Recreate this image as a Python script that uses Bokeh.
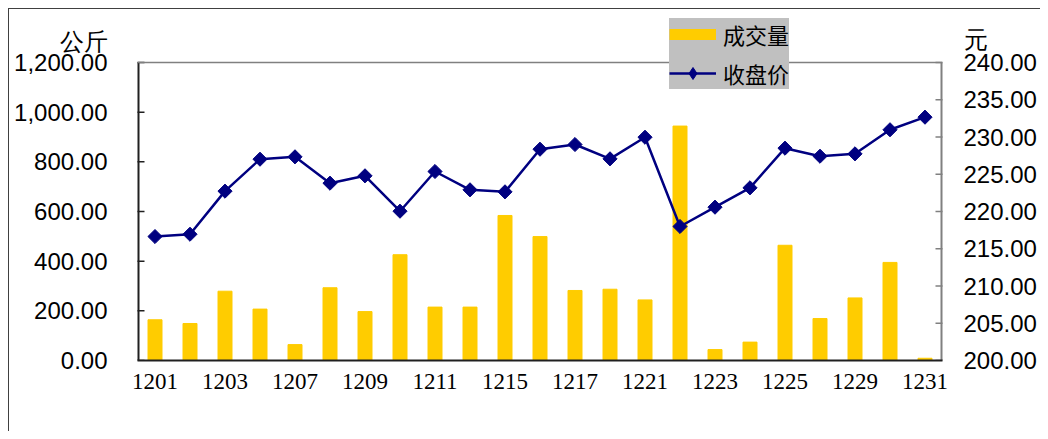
from bokeh.plotting import figure
from bokeh.models import (Range1d, LinearAxis, FixedTicker, NumeralTickFormatter,
                          Legend, LegendItem, ColumnDataSource, Span)
from bokeh.core.properties import value
from bokeh.embed import file_html
from bokeh.resources import INLINE
import numpy as np

dates = ["1201", "1202", "1203", "1206", "1207", "1208", "1209", "1210", "1211", "1214",
         "1215", "1216", "1217", "1220", "1221", "1222", "1223", "1224", "1225", "1228",
         "1229", "1230", "1231"]
volume = [164, 149, 279, 207, 64, 293, 197, 426, 215, 215,
          584, 499, 282, 287, 244, 944, 44, 74, 464, 169,
          252, 395, 9]
price = [216.64, 216.95, 222.73, 227.02, 227.34, 223.80, 224.79, 220.04, 225.37, 222.91,
         222.64, 228.36, 228.99, 227.07, 229.97, 217.99, 220.58, 223.18, 228.50, 227.42,
         227.74, 230.97, 232.66]
vol_ticks = [0, 200, 400, 600, 800, 1000, 1200]
price_ticks = [200, 205, 210, 215, 220, 225, 230, 235, 240]
vol_unit = "公斤"
price_unit = "元"
vol_name = "成交量"
price_name = "收盘价"

# geometry (pixels)
W, H = 1032, 423
B_LEFT, B_RIGHT, B_TOP, B_BOTTOM = 128, 99, 3, 72
PLOT_H = 298                      # height of the bounded plot box
FRAME_H = H - B_TOP - B_BOTTOM    # frame extends above the plot box
scale = FRAME_H / PLOT_H
vol_lo, vol_hi = vol_ticks[0], vol_ticks[-1]
pr_lo, pr_hi = price_ticks[0], price_ticks[-1]
vol_top = vol_lo + (vol_hi - vol_lo) * scale
pr_top = pr_lo + (pr_hi - pr_lo) * scale
# unit captions sit ~21px above the plot box top
vol_unit_y = vol_hi + (vol_hi - vol_lo) * 21 / PLOT_H
pr_unit_y = pr_hi + (pr_hi - pr_lo) * 23 / PLOT_H

xs = list(range(len(dates)))
src = ColumnDataSource(data=dict(x=xs, vol=volume, price=price))
x0, x1 = -0.5, len(dates) - 0.5

p = figure(width=W, height=H, output_backend="svg", toolbar_location=None,
           x_range=Range1d(x0, x1), y_range=Range1d(vol_lo, vol_top),
           min_border_left=B_LEFT, min_border_right=B_RIGHT,
           min_border_top=B_TOP, min_border_bottom=B_BOTTOM)
p.extra_y_ranges = {"price": Range1d(pr_lo, pr_top)}
p.grid.visible = False
p.background_fill_color = "white"
p.border_fill_color = "white"
p.outline_line_color = None
p.styles = {"border-top": "1px solid #404040", "border-left": "1px solid #404040",
            "margin-top": "8px", "margin-left": "8px"}

# plot box: top line, left and right axis lines, inner ticks
p.add_layout(Span(location=vol_hi, dimension="width", line_color="#808080", line_width=1.5))
p.segment(x0=[x0], y0=[vol_lo], x1=[x0], y1=[vol_hi], line_color="#202020", line_width=4)
p.segment(x0=[x1], y0=[pr_lo], x1=[x1], y1=[pr_hi], line_color="#808080", line_width=4,
          y_range_name="price")
p.scatter(x=[x0] * len(vol_ticks), y=vol_ticks, marker="dash", size=14,
          line_color="#202020", line_width=1.5)
p.scatter(x=[x1] * len(price_ticks), y=price_ticks, marker="dash", size=14,
          line_color="#808080", line_width=1.5, y_range_name="price")

bars = p.vbar(x="x", top="vol", width=0.4, bottom=0, source=src,
              fill_color="#FFCC00", line_color="#FFCC00")
line_r = p.line("x", "price", source=src, y_range_name="price",
                line_color="#000080", line_width=2.5)
sc_r = p.scatter("x", "price", source=src, y_range_name="price", marker="square",
                 angle=np.pi / 4, size=10, fill_color="#000080", line_color="#000080")
nan_src = ColumnDataSource(data=dict(x=np.array([np.nan]), y=np.array([np.nan])))
swatch = p.line("x", "y", source=nan_src, line_color="#FFCC00", line_width=11, line_cap="butt")
leg_diamond = p.scatter("x", "y", source=nan_src, marker="diamond", size=15,
                        fill_color="#000080", line_color="#000080")

# x axis
xa = p.xaxis[0]
xa.ticker = FixedTicker(ticks=xs[::2])
xa.major_label_overrides = {i: dates[i] for i in xs[::2]}
xa.major_tick_in = 0
xa.major_tick_out = 0
xa.minor_tick_line_color = None
xa.axis_line_color = "#202020"
xa.axis_line_width = 2
xa.major_label_text_font = "Liberation Serif"
xa.major_label_text_font_size = "23px"
xa.major_label_text_color = "black"
xa.major_label_standoff = 13

# left axis (labels + unit caption)
ya = p.yaxis[0]
ya.ticker = FixedTicker(ticks=vol_ticks + [vol_unit_y])
ya.formatter = NumeralTickFormatter(format="0,0.00")
ya.major_label_overrides = {vol_unit_y: vol_unit}
ya.major_tick_in = 0
ya.major_tick_out = 0
ya.major_tick_line_color = None
ya.minor_tick_line_color = None
ya.axis_line_color = None
ya.major_label_text_font = "Liberation Sans"
ya.major_label_text_font_size = "24px"
ya.major_label_text_color = "black"
ya.major_label_standoff = 30

# right axis (labels + unit caption)
ra = LinearAxis(y_range_name="price", ticker=FixedTicker(ticks=price_ticks + [pr_unit_y]),
                formatter=NumeralTickFormatter(format="0.00"))
ra.major_label_overrides = {pr_unit_y: price_unit}
ra.major_tick_in = 0
ra.major_tick_out = 0
ra.major_tick_line_color = None
ra.minor_tick_line_color = None
ra.axis_line_color = None
ra.major_label_text_font = "Liberation Sans"
ra.major_label_text_font_size = "24px"
ra.major_label_text_color = "black"
ra.major_label_standoff = 21
p.add_layout(ra, "right")

legend = Legend(items=[LegendItem(label=value(vol_name), renderers=[swatch]),
                       LegendItem(label=value(price_name), renderers=[line_r, leg_diamond])],
                location=(532, 271), background_fill_color="#c0c0c0", background_fill_alpha=1,
                border_line_color=None, label_text_font="Noto Sans CJK SC",
                label_text_font_size="22px", label_text_color="black",
                glyph_width=47, glyph_height=30, label_height=30, spacing=7,
                padding=6, margin=0, label_standoff=7)
p.add_layout(legend)

open("out.html", "w").write(file_html(p, INLINE))
